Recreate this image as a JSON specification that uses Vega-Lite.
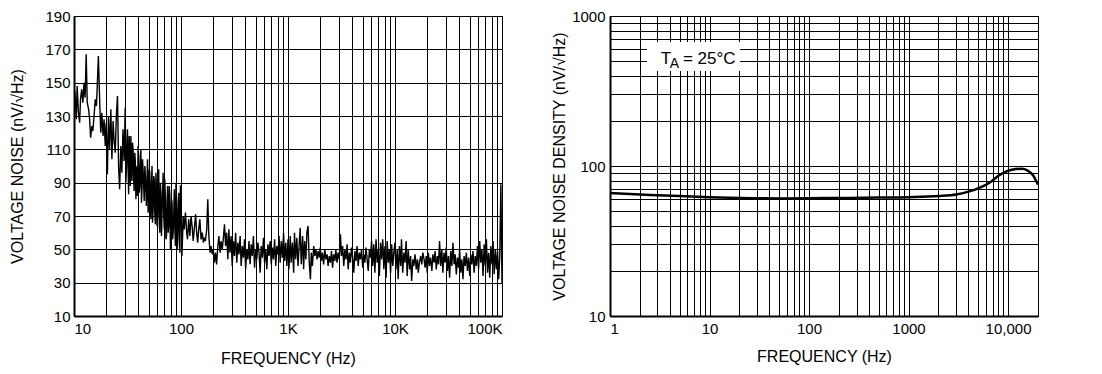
{
"$schema": "https://vega.github.io/schema/vega-lite/v6.json",
"background": "white",
"padding": {"left": 8, "top": 8, "right": 5, "bottom": 5},
"spacing": 48,
"config": {
  "font": "Liberation Sans",
  "view": {"stroke": "#000", "strokeWidth": 1},
  "axis": {"labelFont": "Liberation Sans", "labelFontSize": 15, "labelColor": "#000", "titleFont": "Liberation Sans", "titleFontSize": 16, "titleFontWeight": "normal", "titleColor": "#000", "gridColor": "#000", "gridOpacity": 1, "gridWidth": 1, "ticks": false, "domainColor": "#000", "domainWidth": 2, "labelOverlap": false, "labelBound": false}
},
"datasets": {
  "noise": [
{"f":10,"v":135},{"f":10.2,"v":145},{"f":10.5,"v":128},{"f":10.7,"v":148},{"f":11,"v":132},{"f":11.3,"v":126},{"f":11.5,"v":140},{"f":11.8,"v":146},{"f":12.1,"v":138},{"f":12.4,"v":150},{"f":12.7,"v":141},{"f":13,"v":167},{"f":13.3,"v":138},{"f":13.7,"v":134},{"f":14,"v":128},{"f":14.3,"v":117},{"f":14.7,"v":124},{"f":15,"v":121},{"f":15.4,"v":130},{"f":15.8,"v":140},{"f":16.2,"v":136},{"f":16.5,"v":148},{"f":16.9,"v":166},{"f":17.4,"v":138},{"f":17.8,"v":120},{"f":18.2,"v":132},{"f":18.7,"v":118},{"f":19.1,"v":128},{"f":19.6,"v":112},{"f":20,"v":126},{"f":20.5,"v":95},{"f":21,"v":130},{"f":21.5,"v":110},{"f":22.1,"v":134},{"f":22.6,"v":104},{"f":23.2,"v":127},{"f":23.7,"v":115},{"f":24.3,"v":108},{"f":24.9,"v":131},{"f":25.5,"v":142},{"f":26.1,"v":100},{"f":26.7,"v":86},{"f":27.4,"v":112},{"f":28,"v":96},{"f":28.7,"v":122},{"f":29.4,"v":103},{"f":30.1,"v":135},{"f":30.9,"v":98},{"f":31.6,"v":122},{"f":32.4,"v":83},{"f":33.2,"v":104},{"f":34,"v":118},{"f":34.8,"v":91},{"f":35.7,"v":110},{"f":36.5,"v":85},{"f":37.4,"v":103},{"f":38.3,"v":94},{"f":39.2,"v":82},{"f":40.2,"v":106},{"f":41.2,"v":88},{"f":42.2,"v":110},{"f":43.2,"v":86},{"f":44.2,"v":98},{"f":45.3,"v":79},{"f":46.4,"v":95},{"f":47.5,"v":76},{"f":48.7,"v":104},{"f":49.9,"v":82},{"f":51.1,"v":96},{"f":52.3,"v":68},{"f":53.6,"v":100},{"f":54.9,"v":74},{"f":56.2,"v":92},{"f":57.6,"v":65},{"f":59,"v":86},{"f":60.4,"v":70},{"f":61.9,"v":98},{"f":63.4,"v":60},{"f":64.9,"v":84},{"f":66.5,"v":72},{"f":68.1,"v":96},{"f":69.8,"v":62},{"f":71.5,"v":80},{"f":73.2,"v":58},{"f":75,"v":88},{"f":76.8,"v":64},{"f":78.7,"v":82},{"f":80.6,"v":55},{"f":82.5,"v":78},{"f":84.5,"v":60},{"f":86.6,"v":86},{"f":88.7,"v":52},{"f":90.9,"v":76},{"f":93.1,"v":58},{"f":95.3,"v":84},{"f":97.6,"v":48},
{"f":30.5,"v":90},{"f":31.2,"v":112},{"f":32,"v":100},{"f":32.8,"v":118},{"f":33.6,"v":88},{"f":34.4,"v":96},{"f":35.2,"v":114},{"f":36.1,"v":92},{"f":37,"v":108},{"f":37.9,"v":80},{"f":38.8,"v":100},{"f":39.7,"v":112},{"f":40.7,"v":84},{"f":41.7,"v":102},{"f":42.7,"v":78},{"f":43.7,"v":104},{"f":44.8,"v":88},{"f":45.9,"v":100},{"f":47,"v":84},{"f":48.1,"v":92},{"f":49.3,"v":72},{"f":50.5,"v":98},{"f":51.7,"v":80},{"f":53,"v":90},{"f":54.2,"v":66},{"f":55.6,"v":94},{"f":56.9,"v":72},{"f":58.3,"v":96},{"f":59.7,"v":64},{"f":61.2,"v":82},{"f":62.6,"v":66},{"f":64.2,"v":90},{"f":65.7,"v":58},{"f":67.3,"v":84},{"f":69,"v":70},{"f":70.6,"v":92},{"f":72.3,"v":56},{"f":74.1,"v":78},{"f":75.9,"v":60},{"f":77.7,"v":88},{"f":79.6,"v":50},{"f":81.6,"v":80},{"f":83.5,"v":56},{"f":85.6,"v":72},{"f":87.6,"v":62},{"f":89.8,"v":90},{"f":92,"v":50},{"f":94.2,"v":78},{"f":96.5,"v":54},{"f":98.8,"v":88},
{"f":100,"v":88},{"f":102,"v":46},{"f":105,"v":70},{"f":107,"v":62},{"f":110,"v":72},{"f":113,"v":60},{"f":115,"v":56},{"f":118,"v":68},{"f":121,"v":58},{"f":124,"v":70},{"f":127,"v":64},{"f":130,"v":55},{"f":133,"v":62},{"f":137,"v":71},{"f":140,"v":60},{"f":143,"v":54},{"f":147,"v":63},{"f":150,"v":68},{"f":154,"v":56},{"f":158,"v":60},{"f":162,"v":54},{"f":165,"v":57},{"f":169,"v":55},{"f":174,"v":62},{"f":178,"v":80},{"f":182,"v":58},{"f":187,"v":48},{"f":191,"v":52},{"f":196,"v":47},{"f":200,"v":50},{"f":205,"v":42},{"f":210,"v":48},{"f":215,"v":41},{"f":221,"v":52},{"f":226,"v":58},{"f":232,"v":48},{"f":237,"v":55},{"f":243,"v":50},{"f":249,"v":57},{"f":255,"v":65},{"f":261,"v":52},{"f":267,"v":60},{"f":274,"v":44},{"f":280,"v":62},{"f":287,"v":48},{"f":294,"v":58},{"f":301,"v":40},{"f":309,"v":55},{"f":316,"v":46},{"f":324,"v":60},{"f":332,"v":42},{"f":340,"v":54},{"f":348,"v":47},{"f":357,"v":58},{"f":365,"v":40},{"f":374,"v":52},{"f":383,"v":45},{"f":392,"v":56},{"f":402,"v":38},{"f":412,"v":50},{"f":422,"v":44},{"f":432,"v":55},{"f":442,"v":41},{"f":453,"v":53},{"f":464,"v":46},{"f":475,"v":58},{"f":487,"v":39},{"f":499,"v":50},{"f":511,"v":44},{"f":523,"v":54},{"f":536,"v":48},{"f":549,"v":36},{"f":562,"v":52},{"f":576,"v":45},{"f":590,"v":57},{"f":604,"v":42},{"f":619,"v":50},{"f":634,"v":38},{"f":649,"v":53},{"f":665,"v":46},{"f":681,"v":55},{"f":698,"v":41},{"f":715,"v":51},{"f":732,"v":44},{"f":750,"v":56},{"f":768,"v":40},{"f":787,"v":52},{"f":806,"v":47},{"f":825,"v":58},{"f":845,"v":42},{"f":866,"v":55},{"f":887,"v":45},{"f":909,"v":60},{"f":931,"v":43},{"f":953,"v":54},{"f":976,"v":40},
{"f":1000,"v":56},{"f":1020,"v":38},{"f":1050,"v":58},{"f":1070,"v":42},{"f":1100,"v":54},{"f":1130,"v":36},{"f":1150,"v":60},{"f":1180,"v":44},{"f":1210,"v":57},{"f":1240,"v":40},{"f":1270,"v":52},{"f":1300,"v":63},{"f":1330,"v":41},{"f":1370,"v":58},{"f":1400,"v":38},{"f":1430,"v":55},{"f":1470,"v":44},{"f":1500,"v":60},{"f":1540,"v":64},{"f":1580,"v":42},{"f":1620,"v":32},{"f":1650,"v":48},{"f":1690,"v":40},{"f":1740,"v":52},{"f":1780,"v":46},{"f":1820,"v":50},{"f":1870,"v":44},{"f":1910,"v":49},{"f":1960,"v":45},{"f":2000,"v":51},{"f":2050,"v":43},{"f":2100,"v":48},{"f":2150,"v":41},{"f":2210,"v":50},{"f":2260,"v":44},{"f":2320,"v":47},{"f":2370,"v":40},{"f":2430,"v":46},{"f":2490,"v":42},{"f":2550,"v":49},{"f":2610,"v":39},{"f":2670,"v":47},{"f":2740,"v":43},{"f":2800,"v":50},{"f":2870,"v":42},{"f":2940,"v":48},{"f":3010,"v":44},{"f":3090,"v":59},{"f":3160,"v":46},{"f":3240,"v":52},{"f":3320,"v":40},{"f":3400,"v":50},{"f":3480,"v":44},{"f":3570,"v":53},{"f":3650,"v":38},{"f":3740,"v":48},{"f":3830,"v":42},{"f":3920,"v":51},{"f":4020,"v":45},{"f":4120,"v":36},{"f":4220,"v":49},{"f":4320,"v":43},{"f":4420,"v":52},{"f":4530,"v":40},{"f":4640,"v":48},{"f":4750,"v":44},{"f":4870,"v":50},{"f":4990,"v":39},{"f":5110,"v":47},{"f":5230,"v":42},{"f":5360,"v":51},{"f":5490,"v":44},{"f":5620,"v":37},{"f":5760,"v":50},{"f":5900,"v":45},{"f":6040,"v":55},{"f":6190,"v":40},{"f":6340,"v":53},{"f":6490,"v":36},{"f":6650,"v":56},{"f":6810,"v":42},{"f":6980,"v":50},{"f":7150,"v":34},{"f":7320,"v":54},{"f":7500,"v":44},{"f":7680,"v":56},{"f":7870,"v":38},{"f":8060,"v":52},{"f":8250,"v":33},{"f":8450,"v":55},{"f":8660,"v":42},{"f":8870,"v":50},{"f":9090,"v":36},{"f":9310,"v":53},{"f":9530,"v":40},{"f":9760,"v":48},
{"f":10000,"v":54},{"f":10200,"v":38},{"f":10500,"v":50},{"f":10700,"v":32},{"f":11000,"v":52},{"f":11300,"v":40},{"f":11500,"v":56},{"f":11800,"v":36},{"f":12100,"v":48},{"f":12400,"v":42},{"f":12700,"v":55},{"f":13000,"v":34},{"f":13300,"v":50},{"f":13700,"v":38},{"f":14000,"v":46},{"f":14300,"v":31},{"f":14700,"v":44},{"f":15000,"v":40},{"f":15400,"v":47},{"f":15800,"v":38},{"f":16200,"v":44},{"f":16500,"v":36},{"f":16900,"v":42},{"f":17400,"v":46},{"f":17800,"v":41},{"f":18200,"v":48},{"f":18700,"v":44},{"f":19100,"v":39},{"f":19600,"v":46},{"f":20000,"v":36},{"f":20500,"v":48},{"f":21000,"v":40},{"f":21500,"v":45},{"f":22100,"v":37},{"f":22600,"v":47},{"f":23200,"v":42},{"f":23700,"v":49},{"f":24300,"v":38},{"f":24900,"v":46},{"f":25500,"v":41},{"f":26100,"v":55},{"f":26700,"v":40},{"f":27400,"v":50},{"f":28000,"v":36},{"f":28700,"v":48},{"f":29400,"v":42},{"f":30100,"v":51},{"f":30900,"v":37},{"f":31600,"v":46},{"f":32400,"v":33},{"f":33200,"v":49},{"f":34000,"v":40},{"f":34800,"v":54},{"f":35700,"v":41},{"f":36500,"v":47},{"f":37400,"v":35},{"f":38300,"v":45},{"f":39200,"v":39},{"f":40200,"v":50},{"f":41200,"v":36},{"f":42200,"v":44},{"f":43200,"v":32},{"f":44200,"v":46},{"f":45300,"v":40},{"f":46400,"v":48},{"f":47500,"v":37},{"f":48700,"v":45},{"f":49900,"v":34},{"f":51100,"v":47},{"f":52300,"v":41},{"f":53600,"v":49},{"f":54900,"v":36},{"f":56200,"v":46},{"f":57600,"v":40},{"f":59000,"v":52},{"f":60400,"v":38},{"f":61900,"v":55},{"f":63400,"v":42},{"f":64900,"v":50},{"f":66500,"v":34},{"f":68100,"v":53},{"f":69800,"v":40},{"f":71500,"v":56},{"f":73200,"v":36},{"f":75000,"v":48},{"f":76800,"v":33},{"f":78700,"v":52},{"f":80600,"v":41},{"f":82500,"v":55},{"f":84500,"v":35},{"f":86600,"v":50},{"f":88700,"v":38},{"f":90900,"v":49},{"f":93100,"v":32},{"f":95300,"v":46},{"f":97600,"v":89},{"f":100000,"v":30}
  ],
  "density": [
{"f":1,"v":66},{"f":2,"v":64.5},{"f":3,"v":63.8},{"f":5,"v":63},{"f":10,"v":62},{"f":20,"v":61.3},{"f":50,"v":60.8},{"f":100,"v":61},{"f":200,"v":61.2},{"f":500,"v":61.6},{"f":1000,"v":62},{"f":2000,"v":63},{"f":3000,"v":64.5},{"f":4000,"v":67.5},{"f":5000,"v":71},{"f":6000,"v":75},{"f":7000,"v":80},{"f":8000,"v":86},{"f":9000,"v":90},{"f":10000,"v":93},{"f":12000,"v":95.5},{"f":14000,"v":96},{"f":16000,"v":92.5},{"f":18000,"v":86},{"f":19000,"v":80.5},{"f":20000,"v":75}
  ],
  "notebox": [{"f1":2.35,"f2":20.3,"v1":430,"v2":671}],
  "note": [{"f":3.65,"v":479}]
},
"hconcat": [
  {
    "width": 428, "height": 300,
    "data": {"name": "noise"},
    "mark": {"type": "line", "color": "#000", "strokeWidth": 1.4, "clip": true},
    "encoding": {
      "x": {"field": "f", "type": "quantitative",
        "scale": {"type": "log", "domain": [10, 100000], "nice": false},
        "axis": {"title": "FREQUENCY (Hz)", "values": [10,20,30,40,50,60,70,80,90,100,200,300,400,500,600,700,800,900,1000,2000,3000,4000,5000,6000,7000,8000,9000,10000,20000,30000,40000,50000,60000,70000,80000,90000,100000],
          "labelExpr": "datum.value == 10 ? '10' : datum.value == 100 ? '100' : datum.value == 1000 ? '1K' : datum.value == 10000 ? '10K' : datum.value == 100000 ? '100K' : ''",
          "labelFlush": true, "labelPadding": 5, "titlePadding": 14}},
      "y": {"field": "v", "type": "quantitative",
        "scale": {"domain": [10, 190], "nice": false, "zero": false},
        "axis": {"title": "VOLTAGE NOISE (nV/√Hz)", "values": [10,30,50,70,90,110,130,150,170,190], "labelPadding": 4, "titlePadding": 19.5}}
    }
  },
  {
    "width": 428, "height": 300,
    "layer": [
      {
        "data": {"name": "density"},
        "mark": {"type": "line", "color": "#000", "strokeWidth": 2.5, "interpolate": "monotone", "clip": true},
        "encoding": {
          "x": {"field": "f", "type": "quantitative",
            "scale": {"type": "log", "domain": [1, 20000], "nice": false},
            "axis": {"title": "FREQUENCY (Hz)", "values": [1,2,3,4,5,6,7,8,9,10,20,30,40,50,60,70,80,90,100,200,300,400,500,600,700,800,900,1000,2000,3000,4000,5000,6000,7000,8000,9000,10000,20000],
              "labelExpr": "datum.value == 1 ? '1' : datum.value == 10 ? '10' : datum.value == 100 ? '100' : datum.value == 1000 ? '1000' : datum.value == 10000 ? '10,000' : ''",
              "labelFlush": true, "labelPadding": 5, "titlePadding": 12}},
          "y": {"field": "v", "type": "quantitative",
            "scale": {"type": "log", "domain": [10, 1000], "nice": false},
            "axis": {"title": "VOLTAGE NOISE DENSITY (nV/√Hz)", "values": [10,20,30,40,50,60,70,80,90,100,200,300,400,500,600,700,800,900,1000],
              "labelExpr": "datum.value == 10 ? '10' : datum.value == 100 ? '100' : datum.value == 1000 ? '1000' : ''",
              "labelPadding": 5, "titlePadding": 4}}
        }
      },
      {
        "data": {"name": "notebox"},
        "mark": {"type": "rect", "color": "white", "opacity": 1},
        "encoding": {
          "x": {"field": "f1", "type": "quantitative"},
          "x2": {"field": "f2"},
          "y": {"field": "v1", "type": "quantitative"},
          "y2": {"field": "v2"}
        }
      },
      {
        "data": {"name": "note"},
        "mark": {"type": "text", "text": "T", "fontSize": 17, "align": "center", "baseline": "alphabetic", "color": "#000"},
        "encoding": {"x": {"field": "f", "type": "quantitative"}, "y": {"field": "v", "type": "quantitative"}}
      },
      {
        "data": {"name": "note"},
        "mark": {"type": "text", "text": "A", "fontSize": 14, "align": "center", "baseline": "alphabetic", "dx": 8.5, "dy": 4.5, "color": "#000"},
        "encoding": {"x": {"field": "f", "type": "quantitative"}, "y": {"field": "v", "type": "quantitative"}}
      },
      {
        "data": {"name": "note"},
        "mark": {"type": "text", "text": "= 25°C", "fontSize": 17, "align": "left", "baseline": "alphabetic", "dx": 17, "color": "#000"},
        "encoding": {"x": {"field": "f", "type": "quantitative"}, "y": {"field": "v", "type": "quantitative"}}
      }
    ]
  }
]
}
